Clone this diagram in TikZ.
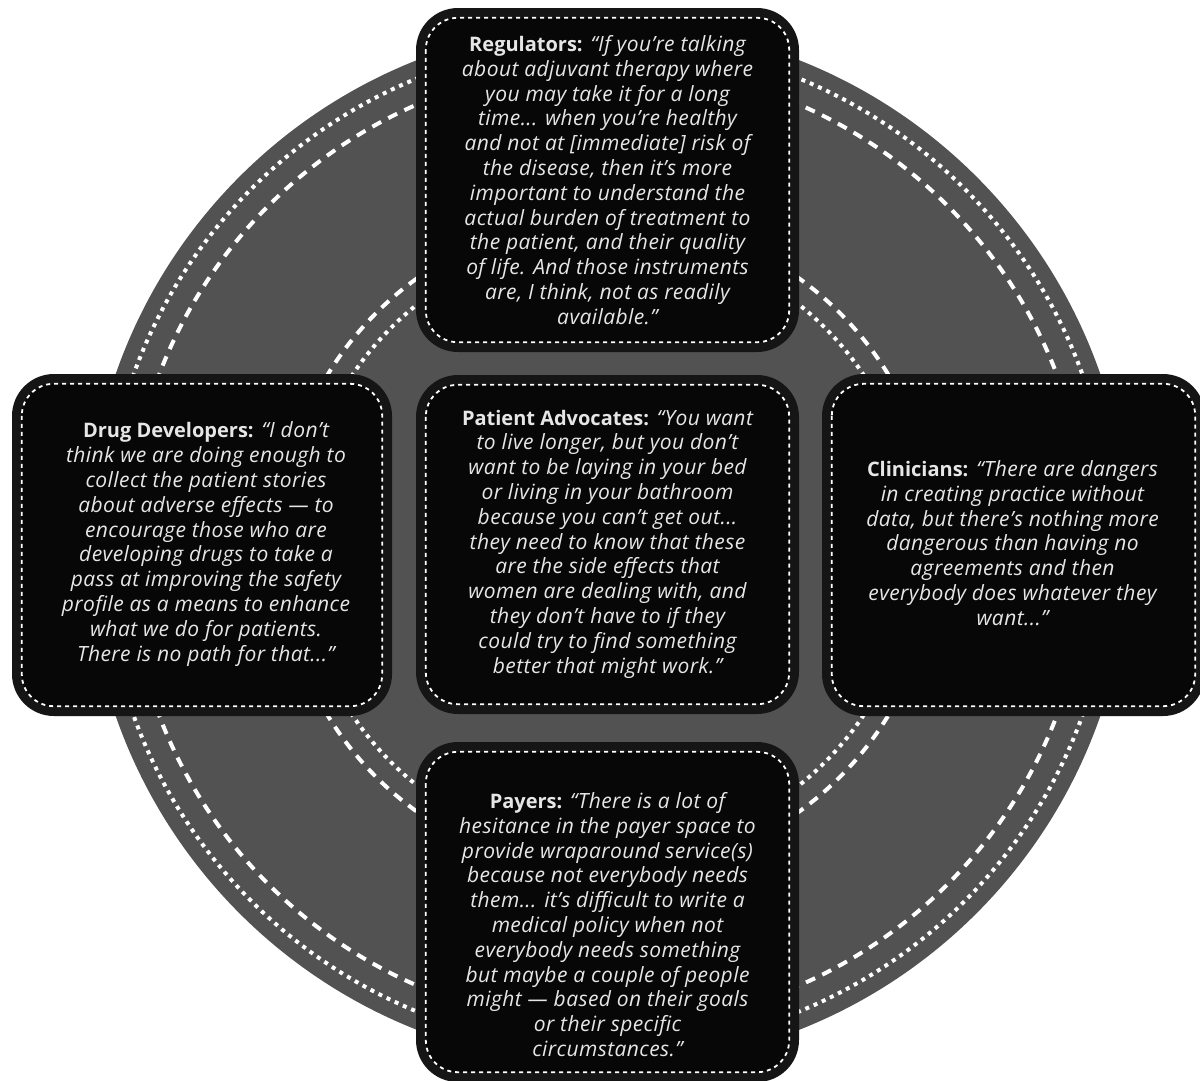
\documentclass[tikz,border=0pt]{standalone}
\usepackage{fontspec}
\setmainfont{Open Sans}[ItalicFeatures={LetterSpace=2}]
\definecolor{disk}{HTML}{525252}
\definecolor{boxedge}{HTML}{151515}
\definecolor{boxfill}{HTML}{070707}
\definecolor{txt}{HTML}{E6E6E6}
\newcommand\lbl[1]{{\fontsize{20}{24.8}\selectfont\upshape\bfseries #1}}
\tikzset{
  dotring/.style={white, line width=4pt, dash pattern=on 4pt off 5pt},
  dashring/.style={white, line width=4pt, dash pattern=on 10pt off 8pt},
  qbox/.style={rectangle, rounded corners=42pt, fill=boxedge, inner sep=0pt, minimum width=383pt},
  qinner/.style={fill=boxfill, draw=white, line width=1.8pt, dash pattern=on 4pt off 4pt, rounded corners=32pt},
  qtext/.style={text=txt, align=center, font=\fontsize{21}{24.8}\selectfont\itshape, inner sep=0pt}
}
\begin{document}
\begin{tikzpicture}[x=1pt,y=-1pt]
\useasboundingbox (0,0) rectangle (1200,1080);
\fill[white] (0,0) rectangle (1200,1080);
% disk and rings
\node[circle, fill=disk, minimum size=1042pt, inner sep=0pt] (disk) at (608,545) {};
\draw[dotring] (disk.center) circle[radius=504];
\draw[dashring] (disk.center) circle[radius=480];
\draw[dashring] (disk.center) circle[radius=328];
\draw[dotring] (disk.center) circle[radius=307];
% boxes
\node[qbox, minimum height=344pt] (reg) at (607.5,180) {};
\node[qbox, minimum width=380pt, minimum height=342pt] (dd) at (202,545) {};
\node[qbox, minimum height=339pt] (pa) at (607.5,544.5) {};
\node[qbox, minimum height=342pt] (cl) at (1013.5,545) {};
\node[qbox, minimum height=340pt] (pay) at (607.5,912) {};
\foreach \b in {reg,dd,pa,cl,pay}{
  \draw[qinner] ([shift={(10,10)}]\b.north west) rectangle ([shift={(-10,-10)}]\b.south east);
}
% texts
\node[qtext] (regtxt) at (607.5,180) {\lbl{Regulators:} “If you’re talking\\
about adjuvant therapy where\\
you may take it for a long\\
time... when you’re healthy\\
and not at [immediate] risk of\\
the disease, then it’s more\\
important to understand the\\
actual burden of treatment to\\
the patient, and their quality\\
of life. And those instruments\\
are, I think, not as readily\\
available.”};
\node[qtext] (ddtxt) at (206,544) {\lbl{Drug Developers:} “I don’t\\
think we are doing enough to\\
collect the patient stories\\
about adverse effects — to\\
encourage those who are\\
developing drugs to take a\\
pass at improving the safety\\
profile as a means to enhance\\
what we do for patients.\\
There is no path for that...”};
\node[qtext] (patxt) at (607.5,544) {\lbl{Patient Advocates:} “You want\\
to live longer, but you don’t\\
want to be laying in your bed\\
or living in your bathroom\\
because you can’t get out...\\
they need to know that these\\
are the side effects that\\
women are dealing with, and\\
they don’t have to if they\\
could try to find something\\
better that might work.”};
\node[qtext] (cltxt) at (1012.5,543) {\lbl{Clinicians:} “There are dangers\\
in creating practice without\\
data, but there’s nothing more\\
dangerous than having no\\
agreements and then\\
everybody does whatever they\\
want...”};
\node[qtext] (paytxt) at (607.5,924.5) {\lbl{Payers:} “There is a lot of\\
hesitance in the payer space to\\
provide wraparound service(s)\\
because not everybody needs\\
them... it’s difficult to write a\\
medical policy when not\\
everybody needs something\\
but maybe a couple of people\\
might — based on their goals\\
or their specific\\
circumstances.”};
\end{tikzpicture}
\end{document}
